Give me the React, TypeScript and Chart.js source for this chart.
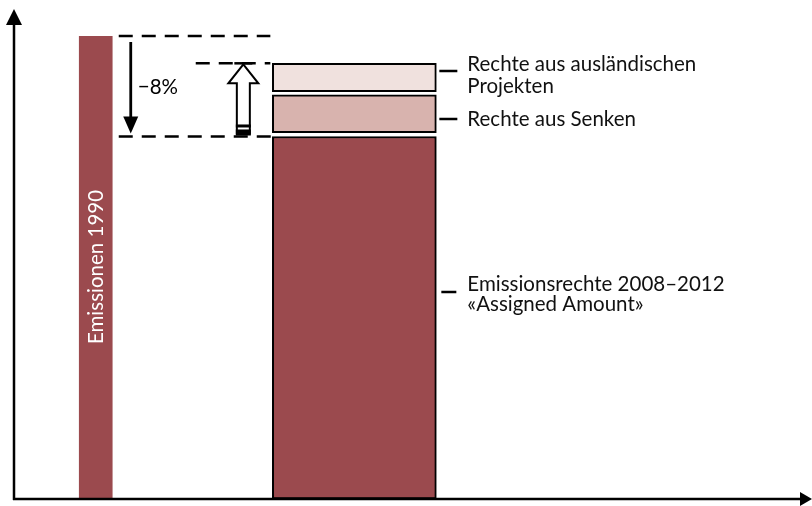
import React, { useEffect, useRef } from "react";
import { Chart, registerables } from "chart.js";

Chart.register(...registerables);

// Schematic values (Emissionen 1990 = 100)
const barSlots = [10.4, 43.3]; // x position of the two columns on a 0–100 axis
const emissions1990 = 100;
const assignedAmount = 78.3;
const sinksRange: [number, number] = [79.1, 87.3];
const projectsRange: [number, number] = [88.0, 94.1];
const reductionLabel = "−8%";
const verticalLabel = "Emissionen 1990";
const labelProjects = ["Rechte aus ausländischen", "Projekten"];
const labelSinks = ["Rechte aus Senken"];
const labelAssigned = ["Emissionsrechte 2008–2012", "«Assigned Amount»"];

const DARK = "#9b4a4e";
const MID = "#d8b3ae";
const LIGHT = "#f0e1de";
const FONT = "20.5px Lato";

const overlay = {
  id: "overlay",
  afterDatasetsDraw(chart: any) {
    const ctx = chart.ctx as CanvasRenderingContext2D;
    const y = chart.scales.y;
    const x = chart.scales.x;
    const area = chart.chartArea;
    const yTop = y.getPixelForValue(emissions1990);
    const yProj = y.getPixelForValue(projectsRange[1]);
    const yAssigned = y.getPixelForValue(assignedAmount);
    const x1 = x.getPixelForValue(barSlots[0]);
    const x2 = x.getPixelForValue(barSlots[1]);
    ctx.save();
    ctx.strokeStyle = "#000";
    ctx.fillStyle = "#000";

    // axes
    ctx.lineWidth = 2.5;
    ctx.beginPath();
    ctx.moveTo(area.left, area.bottom + 1);
    ctx.lineTo(area.left, 22);
    ctx.moveTo(area.left - 1, area.bottom);
    ctx.lineTo(801, area.bottom);
    ctx.stroke();
    ctx.beginPath();
    ctx.moveTo(area.left, 9);
    ctx.lineTo(area.left + 8, 25);
    ctx.lineTo(area.left - 8, 25);
    ctx.closePath();
    ctx.fill();
    ctx.beginPath();
    ctx.moveTo(812, area.bottom);
    ctx.lineTo(800, area.bottom - 7);
    ctx.lineTo(800, area.bottom + 7);
    ctx.closePath();
    ctx.fill();

    // dashed guide lines
    ctx.lineWidth = 2.5;
    ctx.setLineDash([14, 9]);
    ctx.beginPath();
    ctx.moveTo(x1 + 23, yTop);
    ctx.lineTo(x2 - 84, yTop);
    ctx.moveTo(x1 + 100, yProj);
    ctx.lineTo(x2 - 84, yProj);
    ctx.moveTo(x1 + 23, yAssigned);
    ctx.lineTo(x2 - 82, yAssigned);
    ctx.stroke();
    ctx.setLineDash([]);

    // down arrow (-8%)
    const ax = x1 + 35;
    ctx.lineWidth = 2.8;
    ctx.beginPath();
    ctx.moveTo(ax, yTop + 6);
    ctx.lineTo(ax, yAssigned - 15);
    ctx.stroke();
    ctx.beginPath();
    ctx.moveTo(ax, yAssigned - 3);
    ctx.lineTo(ax + 7.5, yAssigned - 20);
    ctx.lineTo(ax - 7.5, yAssigned - 20);
    ctx.closePath();
    ctx.fill();
    ctx.font = FONT;
    ctx.textBaseline = "alphabetic";
    ctx.textAlign = "left";
    ctx.fillText(reductionLabel, ax + 7, 94);

    // hollow up arrow
    const hx = x2 - 111;
    const tip = yProj;
    const base = yAssigned - 2;
    ctx.lineWidth = 2;
    ctx.beginPath();
    ctx.moveTo(hx, tip + 1);
    ctx.lineTo(hx + 15, tip + 20);
    ctx.lineTo(hx + 6.5, tip + 20);
    ctx.lineTo(hx + 6.5, base);
    ctx.lineTo(hx - 6.5, base);
    ctx.lineTo(hx - 6.5, tip + 20);
    ctx.lineTo(hx - 15, tip + 20);
    ctx.closePath();
    ctx.fillStyle = "#fff";
    ctx.fill();
    ctx.stroke();
    ctx.fillStyle = "#000";
    ctx.fillRect(hx - 7.5, base - 10, 15, 3);
    ctx.fillRect(hx - 7.5, base - 5, 15, 5);
    ctx.lineWidth = 2.5;
    ctx.beginPath();
    ctx.moveTo(hx - 9, tip);
    ctx.lineTo(hx + 9, tip);
    ctx.stroke();

    // labels with leader ticks
    const tx = x2 + 85;
    const lx = x2 + 113;
    ctx.lineWidth = 2.5;
    ctx.beginPath();
    ctx.moveTo(tx, 71);
    ctx.lineTo(tx + 18, 71);
    ctx.moveTo(tx, 119);
    ctx.lineTo(tx + 18, 119);
    ctx.moveTo(tx + 2, 292);
    ctx.lineTo(tx + 17, 292);
    ctx.stroke();
    ctx.font = FONT;
    ctx.fillStyle = "#111";
    labelProjects.forEach((t, i) => ctx.fillText(t, lx, 71 + i * 22));
    labelSinks.forEach((t, i) => ctx.fillText(t, lx, 126 + i * 22));
    labelAssigned.forEach((t, i) => ctx.fillText(t, lx, 291 + i * 20));

    // vertical label inside first bar
    ctx.save();
    ctx.translate(x1 + 7, 267);
    ctx.rotate(-Math.PI / 2);
    ctx.fillStyle = "#fff";
    ctx.textAlign = "center";
    ctx.fillText(verticalLabel, 0, 0);
    ctx.restore();

    ctx.restore();
  },
};

export default function App() {
  const ref = useRef<HTMLCanvasElement | null>(null);
  useEffect(() => {
    if (!ref.current) return;
    const chart = new Chart(ref.current, {
      type: "bar",
      data: {
        datasets: [
          {
            label: "Emissionen 1990",
            data: [{ x: barSlots[0], y: [0, emissions1990] }] as any,
            backgroundColor: DARK,
            borderWidth: 0,
            barThickness: 33,
          },
          {
            label: "Assigned Amount",
            data: [{ x: barSlots[1], y: [0, assignedAmount] }] as any,
            backgroundColor: DARK,
            borderColor: "#000",
            borderWidth: 2,
            borderSkipped: false,
            barThickness: 164,
          },
          {
            label: "Senken",
            data: [{ x: barSlots[1], y: sinksRange }] as any,
            backgroundColor: MID,
            borderColor: "#000",
            borderWidth: 2,
            borderSkipped: false,
            barThickness: 164,
          },
          {
            label: "Projekte",
            data: [{ x: barSlots[1], y: projectsRange }] as any,
            backgroundColor: LIGHT,
            borderColor: "#000",
            borderWidth: 2,
            borderSkipped: false,
            barThickness: 164,
          },
        ],
      },
      options: {
        animation: false,
        responsive: false,
        grouped: false,
        layout: { padding: { left: 14, right: 12, top: 36, bottom: 7 } },
        plugins: { legend: { display: false }, tooltip: { enabled: false } },
        scales: {
          x: { type: "linear", min: 0, max: 100, display: false, offset: false },
          y: { min: 0, max: 100, display: false },
        },
      } as any,
      plugins: [overlay],
    });
    return () => chart.destroy();
  }, []);
  return (
    <div style={{ position: "fixed", left: 0, top: 0, width: 812, height: 506, background: "#fff" }}>
      <canvas ref={ref} width={812} height={506} style={{ display: "block" }} />
    </div>
  );
}
